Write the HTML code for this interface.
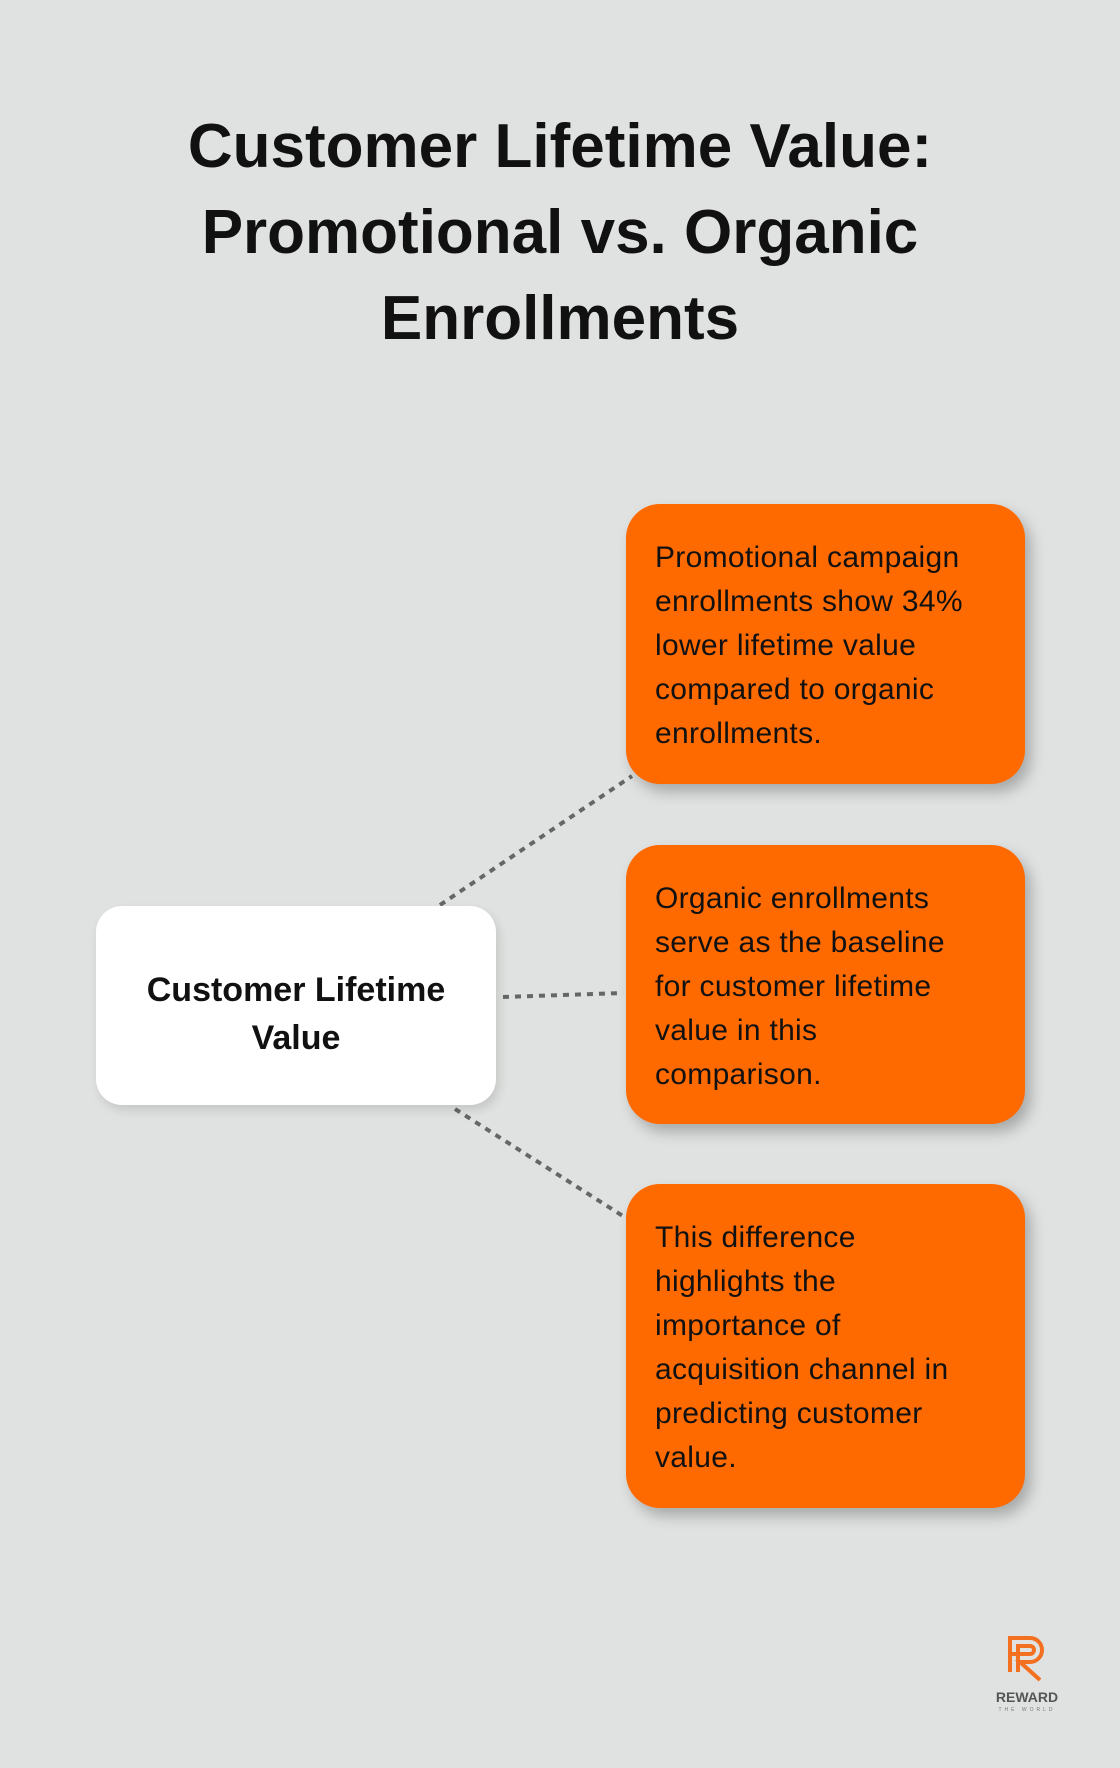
<!DOCTYPE html>
<html><head><meta charset="utf-8"><style>
body{margin:0;width:1120px;height:1768px;background:#e0e2e1;position:relative;font-family:"Liberation Sans",sans-serif;overflow:hidden}
.t{position:absolute;left:0;width:1120px;text-align:center;font-weight:bold;font-size:62px;line-height:86px;top:104px;color:#111}
.o{position:absolute;left:626px;width:399px;background:#ff6a00;border-radius:34px;box-shadow:6px 8px 14px rgba(0,0,0,.25);color:#111;font-size:30px;line-height:44px;box-sizing:border-box;padding:32px 10px 0 29px;white-space:nowrap;letter-spacing:0.3px}
.w{position:absolute;left:96px;top:906px;width:400px;height:199px;background:#fff;border-radius:26px;box-shadow:3px 5px 10px rgba(0,0,0,.12);text-align:center;font-weight:bold;font-size:34px;line-height:48px;box-sizing:border-box;padding-top:60px;color:#111}
</style></head><body>
<div class="t">Customer Lifetime Value:<br>Promotional vs. Organic<br>Enrollments</div>
<svg style="position:absolute;left:0;top:0" width="1120" height="1768">
<g stroke="#666" stroke-width="4" stroke-dasharray="6 6" fill="none">
<line x1="440" y1="905" x2="632" y2="776"/>
<line x1="503" y1="997" x2="623" y2="993"/>
<line x1="455" y1="1109" x2="626" y2="1218"/>
</g>
<g fill="none" stroke="#f37021" stroke-width="4">
<path d="M1010 1672 V1638 H1030 A12 12 0 0 1 1030 1662 H1020 L1040 1680"/>
<path d="M1018 1672 V1646 H1030 A4 4 0 0 1 1030 1654 H1012"/>
</g>
<text x="1027" y="1702" text-anchor="middle" font-family="Liberation Sans" font-weight="bold" font-size="14" fill="#555">REWARD</text>
<text x="1027" y="1711" text-anchor="middle" font-family="Liberation Sans" font-size="5" letter-spacing="3" fill="#777">THE WORLD</text>
</svg>
<div class="w">Customer Lifetime<br>Value</div>
<div class="o" style="top:504px;height:280px">Promotional campaign<br>enrollments show 34%<br>lower lifetime value<br>compared to organic<br>enrollments.</div>
<div class="o" style="top:845px;height:279px">Organic enrollments<br>serve as the baseline<br>for customer lifetime<br>value in this<br>comparison.</div>
<div class="o" style="top:1184px;height:324px">This difference<br>highlights the<br>importance of<br>acquisition channel in<br>predicting customer<br>value.</div>
</body></html>
